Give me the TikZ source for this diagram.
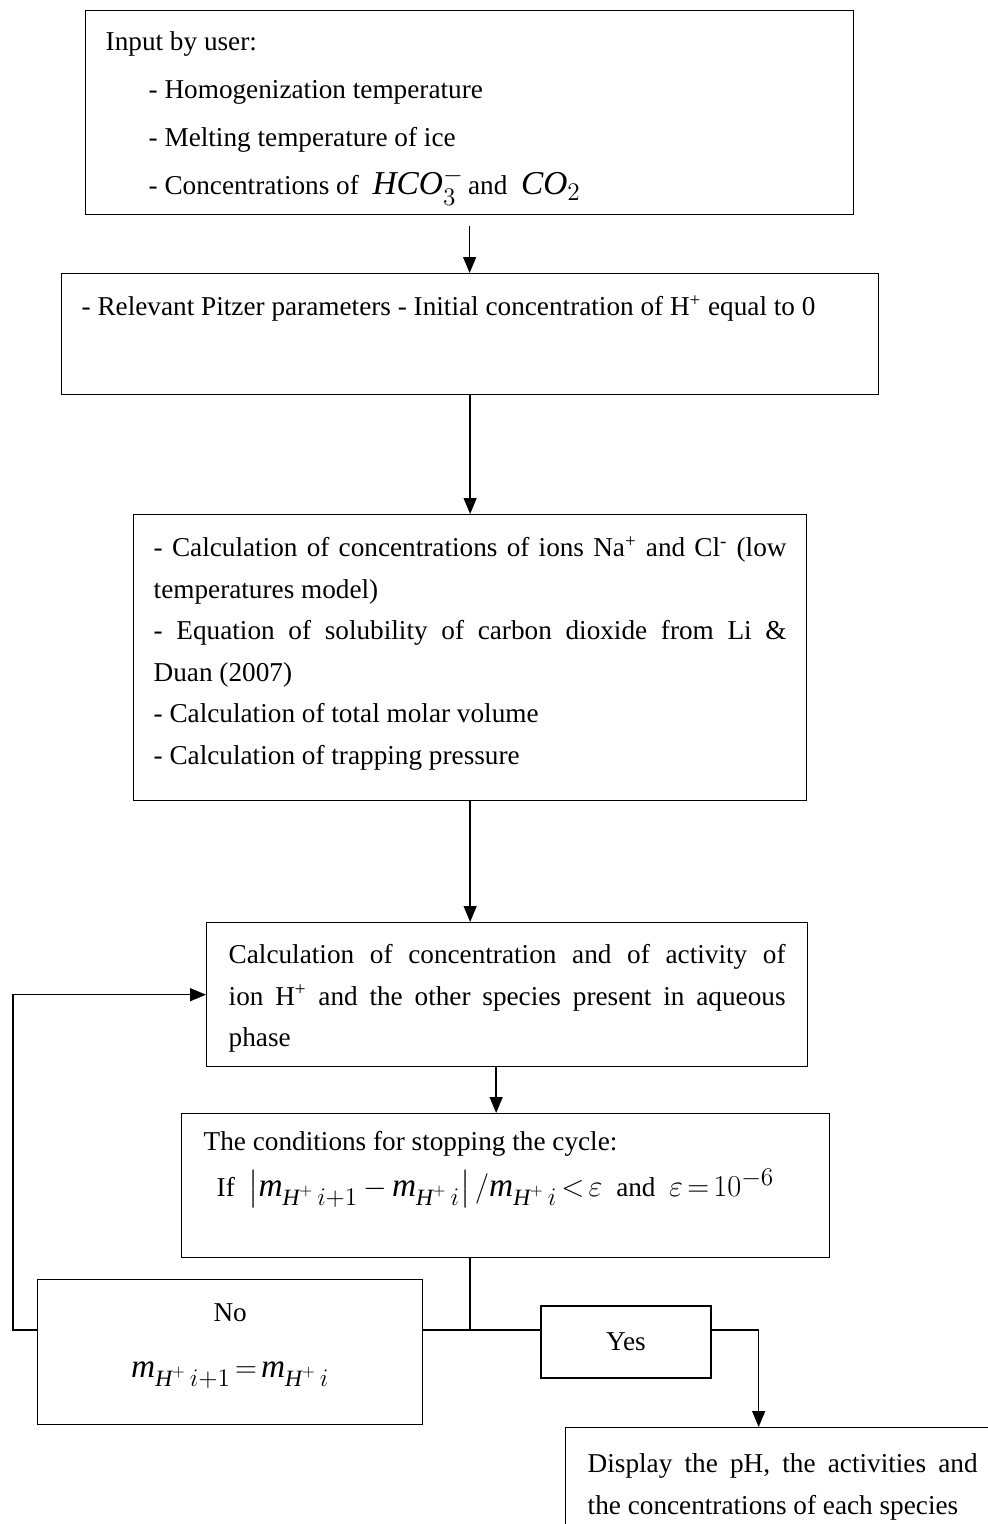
\documentclass[tikz,border=0pt]{standalone}
\usepackage{fontspec}
\usepackage{amsmath}
\setmainfont{Liberation Serif}
\usetikzlibrary{arrows.meta,calc}

\newcommand{\mH}[1]{\textit{m}_{\textit{H}^{+}\,#1}}
\newcommand{\eqpart}[1]{{\fontsize{19}{23.6}\selectfont\thickmuskip=2.5mu\medmuskip=3mu$#1$}}

\begin{document}
\begin{tikzpicture}[
    x=0.02cm, y=-0.02cm,
    font=\fontsize{15.5}{23.6}\selectfont,
    flowbox/.style={draw, line width=0.8pt, anchor=north west, inner ysep=0pt, inner xsep=0.4cm, align=justify},
    smallbox/.style={draw, line width=0.8pt, minimum width=3.4cm, minimum height=1.44cm},
    line/.style={-{Triangle[length=0.32cm, width=0.26cm]}, line width=0.75pt},
    link/.style={line width=0.75pt}
]
    \useasboundingbox (0,0) rectangle (987,1524);

    % Node placement
    \node[flowbox, text width=14.56cm, text height=0.8cm, text depth=3.28cm] (input) at (85,10)
        {Input by user:\\[0.13cm]
         \hspace*{0.86cm}- Homogenization temperature\\[0.13cm]
         \hspace*{0.86cm}- Melting temperature of ice\\[0.13cm]
         \hspace*{0.86cm}- Concentrations of \ \eqpart{\textit{HCO}_3^-}\,and \ \eqpart{\textit{CO}_2}};
    \node[flowbox, text width=15.54cm, text height=0.84cm, text depth=1.58cm] (pitzer) at (61,273)
        {- Relevant Pitzer parameters - Initial concentration of H\textsuperscript{+} equal to 0};
    \node[flowbox, text width=12.66cm, text height=0.84cm, text depth=4.88cm] (solub) at (133,514)
        {- Calculation of concentrations of ions Na\textsuperscript{+} and Cl\textsuperscript{-} (low\linebreak
         temperatures model)\\
         - Equation of solubility of carbon dioxide from Li \&\linebreak
         Duan (2007)\\
         - Calculation of total molar volume\\
         - Calculation of trapping pressure};
    \node[flowbox, inner xsep=0.44cm, text width=11.14cm, text height=0.82cm, text depth=2.06cm] (activity) at (206,922)
        {Calculation of concentration and of activity of\linebreak
         ion H\textsuperscript{+} and the other species present in aqueous\linebreak
         phase};
    \node[flowbox, inner xsep=0.44cm, text width=12.08cm, text height=0.74cm, text depth=2.14cm] (stopcheck) at (181,1113)
        {The conditions for stopping the cycle:\\[0.09cm]
         \hspace*{0.26cm}If \ \eqpart{\left|\mH{i+1}-\mH{i}\right|/\mH{i}<\varepsilon} \ and \ \eqpart{\varepsilon=10^{-6}}};
    \node[flowbox, align=center, text width=6.9cm, text height=0.84cm, text depth=2.06cm] (retry) at (37,1279)
        {No\\[0.29cm]
         \eqpart{\mH{i+1}=\mH{i}}};
    \node[smallbox] (accept) at (626,1342) {Yes};
    \node[flowbox, inner xsep=0.44cm, text width=7.8cm, text height=0.9cm, text depth=1.76cm] (display) at (565,1427)
        {Display the pH, the activities and\linebreak
         the concentrations of each species};

    \coordinate (jn) at (470,1330);
    \coordinate (loopx) at (13,1330);

    % Connections
    \draw[line, shorten <=0.22cm] (input.south) -- (input.south |- pitzer.north);
    \draw[line] (pitzer.south) -- (pitzer.south |- solub.north);
    \draw[line] (solub.south) -- (solub.south |- activity.north);
    \draw[line] ([xshift=-0.22cm]activity.south) -- ([xshift=-0.22cm]activity.south |- stopcheck.north);
    \draw[link] (stopcheck.south -| jn) -- (jn);
    \draw[link] (jn -| retry.east) -- (jn -| accept.west);
    % back to the activity step
    \draw[line] (jn -| retry.west) -- (loopx) |- (activity.west);
    \draw[line] (jn -| accept.east) -| ([xshift=-0.48cm]display.north);

\end{tikzpicture}
\end{document}
